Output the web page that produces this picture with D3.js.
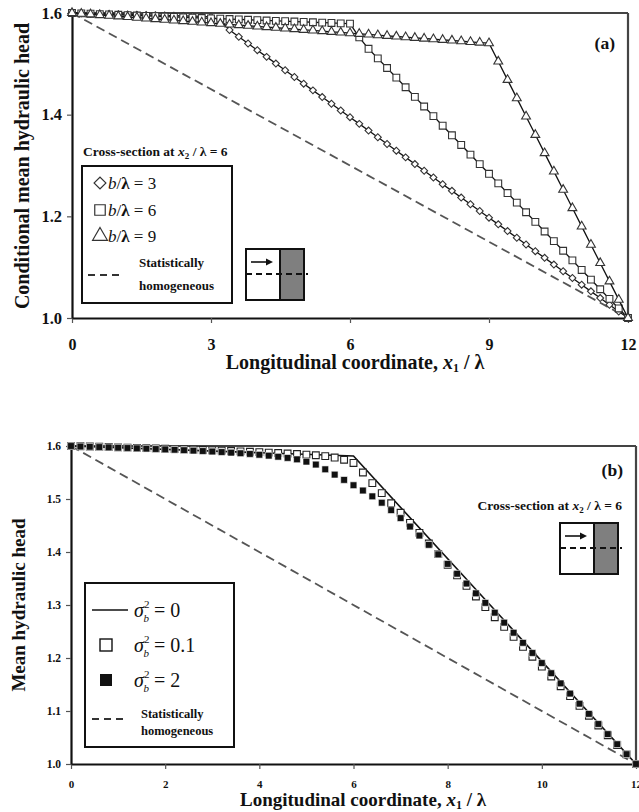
<!DOCTYPE html>
<html>
<head>
<meta charset="utf-8">
<script src="https://cdn.jsdelivr.net/npm/d3@7"></script>
<style>
  body { margin: 0; background: #fff; }
  svg { display: block; }
  text { font-family: "Liberation Serif", "DejaVu Serif", serif; fill: #111; }
</style>
</head>
<body>
<div id="canvas"></div>
<script>
// two panels: (a) barrier width, (b) variance of log-conductivity
const width = 639, height = 812;

// shared x grid (x1 / lambda)
const xGrid = [0, 0.2, 0.4, 0.6, 0.8, 1.0, 1.2, 1.4, 1.6, 1.8, 2.0, 2.2, 2.4, 2.6, 2.8,
  3.0, 3.2, 3.4, 3.6, 3.8, 4.0, 4.2, 4.4, 4.6, 4.8, 5.0, 5.2, 5.4, 5.6, 5.8,
  6.0, 6.2, 6.4, 6.6, 6.8, 7.0, 7.2, 7.4, 7.6, 7.8, 8.0, 8.2, 8.4, 8.6, 8.8,
  9.0, 9.2, 9.4, 9.6, 9.8, 10.0, 10.2, 10.4, 10.6, 10.8, 11.0, 11.2, 11.4, 11.6, 11.8, 12.0];

// panel (a): b / lambda = 3, 6, 9
const headB3 = [1.6000, 1.5995, 1.5990, 1.5986, 1.5981, 1.5976, 1.5971, 1.5966, 1.5962, 1.5957,
  1.5952, 1.5947, 1.5942, 1.5938, 1.5933, 1.5925, 1.5860, 1.5665, 1.5533, 1.5401,
  1.5269, 1.5137, 1.5005, 1.4874, 1.4742, 1.4610, 1.4478, 1.4346, 1.4215, 1.4083,
  1.3951, 1.3819, 1.3687, 1.3556, 1.3424, 1.3292, 1.3160, 1.3028, 1.2897, 1.2765,
  1.2633, 1.2501, 1.2369, 1.2238, 1.2106, 1.1974, 1.1842, 1.1710, 1.1579, 1.1447,
  1.1315, 1.1183, 1.1051, 1.0920, 1.0788, 1.0656, 1.0524, 1.0392, 1.0261, 1.0129, 1.0000];
const headB6 = [1.6000, 1.5993, 1.5986, 1.5979, 1.5972, 1.5965, 1.5958, 1.5951, 1.5944, 1.5937,
  1.5930, 1.5923, 1.5916, 1.5909, 1.5902, 1.5895, 1.5888, 1.5881, 1.5874, 1.5867,
  1.5860, 1.5853, 1.5846, 1.5839, 1.5832, 1.5825, 1.5818, 1.5811, 1.5804, 1.5797,
  1.5790, 1.5520, 1.5296, 1.5107, 1.4918, 1.4729, 1.4540, 1.4350, 1.4161, 1.3972,
  1.3783, 1.3594, 1.3404, 1.3215, 1.3026, 1.2837, 1.2648, 1.2458, 1.2269, 1.2080,
  1.1891, 1.1702, 1.1512, 1.1323, 1.1134, 1.0945, 1.0756, 1.0566, 1.0377, 1.0188, 1.0000];
const headB9 = [1.6000, 1.5987, 1.5974, 1.5960, 1.5947, 1.5934, 1.5921, 1.5908, 1.5894, 1.5881,
  1.5868, 1.5855, 1.5842, 1.5828, 1.5815, 1.5802, 1.5789, 1.5776, 1.5762, 1.5749,
  1.5736, 1.5723, 1.5710, 1.5696, 1.5683, 1.5670, 1.5657, 1.5644, 1.5630, 1.5617,
  1.5604, 1.5591, 1.5578, 1.5564, 1.5551, 1.5538, 1.5525, 1.5512, 1.5498, 1.5485,
  1.5472, 1.5459, 1.5446, 1.5432, 1.5419, 1.5406, 1.5046, 1.4685, 1.4325, 1.3965,
  1.3604, 1.3244, 1.2884, 1.2523, 1.2163, 1.1802, 1.1442, 1.1082, 1.0721, 1.0361, 1.0000];

// statistically homogeneous reference (both panels)
const homogX = [0, 12];
const homogY = [1.6, 1.0];

// panel (b): sigma_b^2 = 0 (line), 0.1 (open), 2 (filled)
const sigma0X = [0, 6, 12];
const sigma0Y = [1.6, 1.581, 1.0];
const headVar01 = [1.6000, 1.5995, 1.5990, 1.5985, 1.5980, 1.5975, 1.5970, 1.5965, 1.5960, 1.5955,
  1.5948, 1.5942, 1.5936, 1.5930, 1.5924, 1.5918, 1.5912, 1.5905, 1.5898, 1.5891,
  1.5884, 1.5876, 1.5868, 1.5859, 1.5849, 1.5838, 1.5825, 1.5808, 1.5782, 1.5740,
  1.5680, 1.5500, 1.5300, 1.5110, 1.4920, 1.4740, 1.4550, 1.4360, 1.4160, 1.3960,
  1.3760, 1.3560, 1.3360, 1.3160, 1.2960, 1.2770, 1.2587, 1.2399, 1.2211, 1.2024,
  1.1838, 1.1652, 1.1467, 1.1281, 1.1096, 1.0910, 1.0726, 1.0543, 1.0359, 1.0181, 1.0000];
const headVar2 = [1.6000, 1.5990, 1.5985, 1.5980, 1.5974, 1.5968, 1.5962, 1.5956, 1.5950, 1.5943,
  1.5936, 1.5929, 1.5921, 1.5913, 1.5905, 1.5896, 1.5886, 1.5875, 1.5863, 1.5850,
  1.5835, 1.5818, 1.5798, 1.5775, 1.5748, 1.5705, 1.5650, 1.5560, 1.5460, 1.5360,
  1.5260, 1.5160, 1.5050, 1.4930, 1.4790, 1.4640, 1.4480, 1.4310, 1.4135, 1.3955,
  1.3775, 1.3590, 1.3405, 1.3220, 1.3040, 1.2855, 1.2667, 1.2477, 1.2286, 1.2095,
  1.1905, 1.1713, 1.1521, 1.1329, 1.1138, 1.0946, 1.0755, 1.0564, 1.0374, 1.0186, 1.0000];

// tick values
const ticksAx = [0, 3, 6, 9, 12];
const ticksAy = [1.0, 1.2, 1.4, 1.6];
const ticksBx = [0, 2, 4, 6, 8, 10, 12];
const ticksBy = [1.0, 1.1, 1.2, 1.3, 1.4, 1.5, 1.6];

const svg = d3.select("#canvas").append("svg")
  .attr("width", width).attr("height", height);

// text with mixed styles: parts = [[string, {italic, bold, size, dx, dy}], ...]
function richText(g, x, y, parts, size, anchor) {
  const t = g.append("text").attr("x", x).attr("y", y)
    .attr("font-size", size).attr("text-anchor", anchor || "start");
  parts.forEach(([s, o]) => {
    o = o || {};
    const sp = t.append("tspan").text(s);
    if (o.italic) sp.attr("font-style", "italic");
    if (o.bold === false) sp.attr("font-weight", "normal");
    else if (o.bold) sp.attr("font-weight", "bold");
    if (o.size) sp.attr("font-size", o.size);
    if (o.dy) sp.attr("dy", o.dy);
    if (o.dx) sp.attr("dx", o.dx);
  });
  return t;
}

function drawAxes(g, x, y, xt, yt, fmtX, fmtY, fontX, fontY, padX) {
  const [x0, x1] = x.range(), [y0, y1] = y.range();
  // frame top / right
  g.append("line").attr("x1", x0).attr("x2", x1).attr("y1", y1).attr("y2", y1)
    .attr("stroke", "#444").attr("stroke-width", 2.2);
  g.append("line").attr("x1", x1).attr("x2", x1).attr("y1", y1).attr("y2", y0)
    .attr("stroke", "#444").attr("stroke-width", 2.2);

  const ax = g.append("g").attr("transform", `translate(0,${y0})`)
    .call(d3.axisBottom(x).tickValues(xt).tickFormat(fmtX).tickSize(5).tickPadding(padX).tickSizeOuter(0));
  const ay = g.append("g").attr("transform", `translate(${x0},0)`)
    .call(d3.axisLeft(y).tickValues(yt).tickFormat(fmtY).tickSize(5).tickPadding(5).tickSizeOuter(0));
  [ax, ay].forEach(a => {
    a.select(".domain").attr("stroke", "#111").attr("stroke-width", 2.2);
    a.selectAll(".tick line").attr("stroke", "#555").attr("stroke-width", 1.2);
    a.selectAll("text").attr("font-family", "Liberation Serif").attr("font-weight", "bold").attr("fill", "#111");
  });
  ax.selectAll("text").attr("font-size", fontX);
  ay.selectAll("text").attr("font-size", fontY);
}

function inset(g, left, top) {
  g.append("rect").attr("x", left).attr("y", top).attr("width", 34).attr("height", 51)
    .attr("fill", "#fff").attr("stroke", "#111").attr("stroke-width", 2);
  g.append("rect").attr("x", left + 34).attr("y", top).attr("width", 24).attr("height", 51)
    .attr("fill", "#7f7f7f").attr("stroke", "#111").attr("stroke-width", 2);
  g.append("line").attr("x1", left).attr("x2", left + 62).attr("y1", top + 25).attr("y2", top + 25)
    .attr("stroke", "#111").attr("stroke-width", 2).attr("stroke-dasharray", "6,4");
  g.append("line").attr("x1", left + 5).attr("x2", left + 23).attr("y1", top + 13).attr("y2", top + 13)
    .attr("stroke", "#111").attr("stroke-width", 1.6);
  g.append("path").attr("d", `M${left + 27},${top + 13}L${left + 20},${top + 9.5}L${left + 20},${top + 16.5}Z`)
    .attr("fill", "#111");
}

function crossLabel(g, x, y, anchor) {
  richText(g, x, y, [
    ["Cross-section at ", { bold: true }],
    ["x", { bold: true, italic: true }],
    ["2", { bold: true, size: 9, dy: 3 }],
    [" / ", { bold: true, dy: -3 }],
    ["λ", { bold: true }],
    [" = 6", { bold: true }]
  ], 13.5, anchor);
}

function xTitle(g, cx, y, size) {
  richText(g, cx, y, [
    ["Longitudinal coordinate, ", { bold: true }],
    ["x", { bold: true, italic: true }],
    ["1", { bold: true, size: 12, dy: 3 }],
    [" / ", { bold: true, dy: -3 }],
    ["λ", { bold: true }]
  ], size, "middle");
}

const lineGen = (x, y) => d3.line().x(d => x(d[0])).y(d => y(d[1]));
const sqSym = d3.symbol().type(d3.symbolSquare).size(46);
const triSym = d3.symbol().type(d3.symbolTriangle).size(34);
const diaSym = d3.symbol().type(d3.symbolSquare).size(24);

// ---------- PANEL (a) ----------
const ga = svg.append("g");
const xa = d3.scaleLinear().domain([0, 12]).range([72, 628]);
const ya = d3.scaleLinear().domain([1.0, 1.6]).range([318, 13]);

drawAxes(ga, xa, ya, ticksAx, ticksAy, d3.format("d"), d3.format(".1f"), 16, 16.5, 16);

ga.append("path").datum(homogX.map((v, i) => [v, homogY[i]]))
  .attr("d", lineGen(xa, ya)).attr("fill", "none")
  .attr("stroke", "#555").attr("stroke-width", 1.8).attr("stroke-dasharray", "9,5");

const seriesA = [
  { vals: headB3, sym: diaSym, rot: 45 },
  { vals: headB6, sym: sqSym, rot: 0 },
  { vals: headB9, sym: triSym, rot: 0 }
];
seriesA.forEach(s => {
  const pts = xGrid.map((v, i) => [v, s.vals[i]]);
  ga.append("path").datum(pts).attr("d", lineGen(xa, ya))
    .attr("fill", "none").attr("stroke", "#111").attr("stroke-width", 1.3);
  ga.selectAll(null).data(pts).enter().append("path")
    .attr("d", s.sym)
    .attr("transform", d => `translate(${xa(d[0])},${ya(d[1])}) rotate(${s.rot})`)
    .attr("fill", "#fff").attr("stroke", "#333").attr("stroke-width", 1.1);
});

richText(ga, 615, 49, [["(a)", { bold: true }]], 17.5, "end");
crossLabel(ga, 83, 156, "start");

// legend (a)
ga.append("rect").attr("x", 82).attr("y", 166).attr("width", 150).attr("height", 137)
  .attr("fill", "#fff").attr("stroke", "#111").attr("stroke-width", 2);
const legA = [
  { sym: d3.symbol().type(d3.symbolSquare).size(70), rot: 45, label: "3", cy: 183 },
  { sym: d3.symbol().type(d3.symbolSquare).size(110), rot: 0, label: "6", cy: 210 },
  { sym: d3.symbol().type(d3.symbolTriangle).size(95), rot: 0, label: "9", cy: 236 }
];
legA.forEach(l => {
  ga.append("path").attr("d", l.sym)
    .attr("transform", `translate(100,${l.cy}) rotate(${l.rot})`)
    .attr("fill", "#fff").attr("stroke", "#333").attr("stroke-width", 1.2);
  richText(ga, 108, l.cy + 6, [
    ["b", { italic: true }], ["/"], ["λ", { bold: true }], [" = " + l.label]
  ], 17);
});
ga.append("line").attr("x1", 88).attr("x2", 124).attr("y1", 275).attr("y2", 275)
  .attr("stroke", "#333").attr("stroke-width", 1.8).attr("stroke-dasharray", "7,5");
richText(ga, 139, 267, [["Statistically", { bold: true }]], 13);
richText(ga, 139, 290, [["homogeneous", { bold: true }]], 13);
inset(ga, 246, 249);

// axis titles (a)
xTitle(ga, 355, 369, 20);
ga.append("text").attr("transform", "translate(29,166) rotate(-90)")
  .attr("text-anchor", "middle").attr("font-size", 20).attr("font-weight", "bold")
  .text("Conditional mean hydraulic head");

// ---------- PANEL (b) ----------
const gb = svg.append("g");
const xb = d3.scaleLinear().domain([0, 12]).range([71, 636]);
const yb = d3.scaleLinear().domain([1.0, 1.6]).range([764, 446]);

drawAxes(gb, xb, yb, ticksBx, ticksBy, d3.format("d"), d3.format(".1f"), 11, 11.5, 11);

gb.append("path").datum(homogX.map((v, i) => [v, homogY[i]]))
  .attr("d", lineGen(xb, yb)).attr("fill", "none")
  .attr("stroke", "#555").attr("stroke-width", 1.8).attr("stroke-dasharray", "9,5");

gb.append("path").datum(sigma0X.map((v, i) => [v, sigma0Y[i]]))
  .attr("d", lineGen(xb, yb)).attr("fill", "none")
  .attr("stroke", "#111").attr("stroke-width", 1.6);

gb.selectAll(null).data(xGrid.map((v, i) => [v, headVar01[i]])).enter().append("path")
  .attr("d", sqSym).attr("transform", d => `translate(${xb(d[0])},${yb(d[1])})`)
  .attr("fill", "#fff").attr("stroke", "#222").attr("stroke-width", 1.1);
gb.selectAll(null).data(xGrid.map((v, i) => [v, headVar2[i]])).enter().append("path")
  .attr("d", sqSym).attr("transform", d => `translate(${xb(d[0])},${yb(d[1])})`)
  .attr("fill", "#111").attr("stroke", "#fff").attr("stroke-width", 0.6);

richText(gb, 623, 476, [["(b)", { bold: true }]], 17.5, "end");
crossLabel(gb, 622, 510, "end");
inset(gb, 560, 523);

// legend (b)
gb.append("rect").attr("x", 85).attr("y", 583).attr("width", 149).attr("height", 164)
  .attr("fill", "#fff").attr("stroke", "#111").attr("stroke-width", 2);
gb.append("line").attr("x1", 92).attr("x2", 128).attr("y1", 610).attr("y2", 610)
  .attr("stroke", "#111").attr("stroke-width", 1.4);
gb.append("rect").attr("x", 100).attr("y", 639).attr("width", 12).attr("height", 12)
  .attr("fill", "#fff").attr("stroke", "#111").attr("stroke-width", 1.4);
gb.append("rect").attr("x", 100).attr("y", 674).attr("width", 12).attr("height", 12)
  .attr("fill", "#111");
[["0", 617], ["0.1", 652], ["2", 687]].forEach(([v, yy]) => {
  richText(gb, 134, yy, [
    ["σ", { italic: true }],
    ["2", { size: 11, dy: -9 }],
    ["b", { italic: true, size: 11, dx: -6, dy: 14 }],
    [" = " + v, { dy: -5 }]
  ], 20);
});
gb.append("line").attr("x1", 92).attr("x2", 128).attr("y1", 719).attr("y2", 719)
  .attr("stroke", "#333").attr("stroke-width", 1.8).attr("stroke-dasharray", "7,5");
richText(gb, 141, 718, [["Statistically", { bold: true }]], 12.5);
richText(gb, 141, 735, [["homogeneous", { bold: true }]], 12.5);

// axis titles (b)
xTitle(gb, 363, 806, 19);
gb.append("text").attr("transform", "translate(25,605) rotate(-90)")
  .attr("text-anchor", "middle").attr("font-size", 19).attr("font-weight", "bold")
  .text("Mean hydraulic head");
</script>
</body>
</html>
